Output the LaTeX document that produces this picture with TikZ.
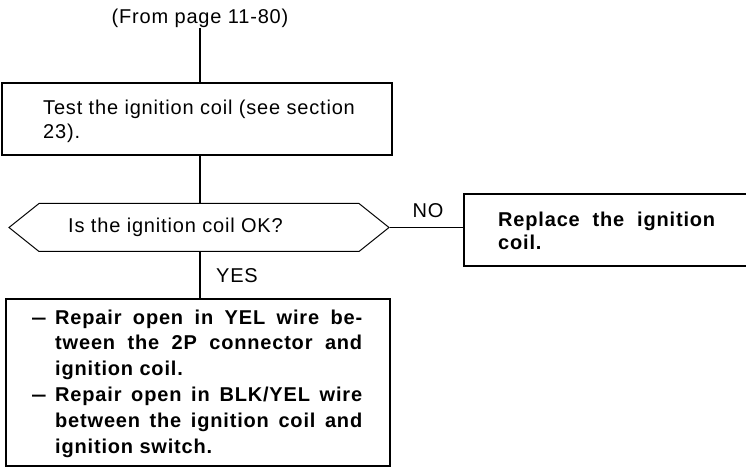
\documentclass[tikz,border=0pt]{standalone}
\usepackage{fontspec}
\setmainfont{Liberation Sans}[LetterSpace=4.1]
\usepackage{graphicx}
\usetikzlibrary{shapes.symbols}
\tikzset{
  box/.style={draw, line width=1.4bp, inner sep=0pt, rectangle},
  hexa/.style={draw, line width=1bp, inner sep=0pt, signal, signal to=west and east, signal pointer angle=77.3},
  txt/.style={inner sep=0pt, anchor=base west, align=left, font=\fontsize{20bp}{24bp}\selectfont},
  btxt/.style={inner sep=0pt, anchor=base west, align=left, font=\bfseries\fontsize{20bp}{25.8bp}\selectfont},
  lbl/.style={inner sep=0pt, anchor=base, font=\fontsize{20bp}{24bp}\selectfont},
  link/.style={line width=1.3bp},
}
\newcommand{\mydash}{\makebox[23bp][l]{\scalebox{0.68}[1]{—}}}
\begin{document}
\begin{tikzpicture}[x=1bp,y=-1bp]
  \useasboundingbox (0,0) rectangle (746,468);
  \clip (0,0) rectangle (746,468);
  % texts and boxes (multi-line text nodes are anchored at their last baseline)
  \node[lbl] (from) at (200,24) {(From page 11-80)};
  \node[box, minimum width=390bp, minimum height=72bp] (b1) at (197,119) {};
  \node[txt] (t1) at (43,139) {Test the ignition coil (see section\\23).};
  \node[hexa, minimum width=380bp, minimum height=48bp] (hex) at (199,227.5) {};
  \node[lbl] (q) at (175.5,233) {Is the ignition coil OK?};
  \node[lbl] (yes) at (237,283) {YES};
  \node[lbl] (no) at (428,218) {NO};
  \node[box, minimum width=296bp, minimum height=72bp] (rb) at (612,230) {};
  \node[btxt, font=\bfseries\fontsize{20bp}{23bp}\selectfont] (rt) at (498,250)
    {\hbox to 217bp{Replace the ignition}\\coil.};
  \node[box, minimum width=384bp, minimum height=167bp] (b3) at (198,382.5) {};
  \node[btxt] (t3) at (32,453)
    {\mydash\hbox to 307bp{Repair open in YEL wire be-}\\
     \hspace*{23bp}\hbox to 307bp{tween the 2P connector and}\\
     \hspace*{23bp}ignition coil.\\
     \mydash\hbox to 307bp{Repair open in BLK/YEL wire}\\
     \hspace*{23bp}\hbox to 307bp{between the ignition coil and}\\
     \hspace*{23bp}ignition switch.};
  % connectors
  \draw[link] (from.south) -- (from.south |- b1.north);
  \draw[link] (b1.south -| from) -- (hex.north -| from);
  \draw[link] (hex.south -| from) -- (b3.north -| from);
  \draw[link] (hex.east) -- (hex.east -| rb.west);
\end{tikzpicture}
\end{document}
